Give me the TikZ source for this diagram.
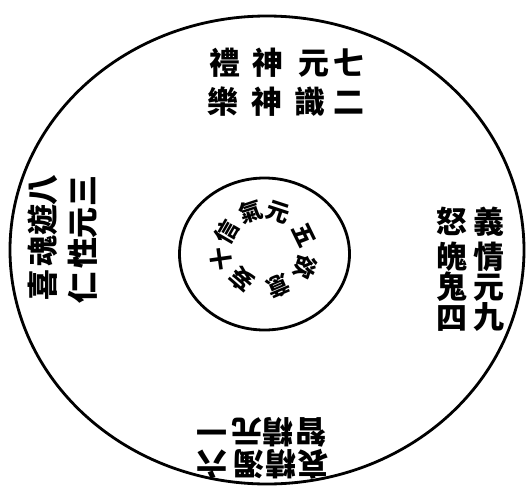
\documentclass[tikz,border=0pt]{standalone}
\usepackage{fontspec}
\newfontfamily\cjkfont{Noto Sans CJK TC}
\tikzset{
  glyphbox/.style={inner sep=0pt,
    execute at begin node={\hbox to 0pt\bgroup\hss},
    execute at end node={\hss\egroup}},
  hanzi/.style={font=\cjkfont\bfseries\fontsize{22}{22}\selectfont, glyphbox,
    minimum width=18.5pt, text height=17.6pt, text depth=0.9pt},
  hubzi/.style={font=\cjkfont\bfseries\fontsize{16.5}{16.5}\selectfont, glyphbox,
    minimum width=11pt, text height=12.5pt, text depth=0pt},
  ring/.style={line width=2pt}
}

\begin{document}
\begin{tikzpicture}[x=0.25mm, y=-0.25mm]
  \useasboundingbox (0,0) rectangle (528,489);
  \fill[white] (0,0) rectangle (528,489);
  % Outer and inner rings
  \draw[ring] (267,250) ellipse [x radius=257, y radius=234];
  \draw[ring] (264.5,254) ellipse [x radius=85, y radius=76];
  % Top group
  \node[hanzi] (top11) at (225,63) {禮};
  \node[hanzi] (top12) at (268,63) {神};
  \node[hanzi] (top13) at (314,63) {元};
  \node[hanzi] (top14) at (349,63) {七};
  \node[hanzi] (top21) at (223,102) {樂};
  \node[hanzi] (top22) at (267,102) {神};
  \node[hanzi] (top23) at (310,102) {識};
  \node[hanzi] (top24) at (349,102) {二};
  % Left group
  \node[hanzi, rotate=90] (lft11) at (43,190) {八};
  \node[hanzi, rotate=90] (lft12) at (43,220) {遊};
  \node[hanzi, rotate=90] (lft13) at (43,251) {魂};
  \node[hanzi, rotate=90] (lft14) at (43,285) {喜};
  \node[hanzi, rotate=90] (lft21) at (83,191) {三};
  \node[hanzi, rotate=90] (lft22) at (83,223) {元};
  \node[hanzi, rotate=90] (lft23) at (83,253) {性};
  \node[hanzi, rotate=90] (lft24) at (83,288) {仁};
  % Right group
  \node[hanzi] (rgt11) at (489,222) {義};
  \node[hanzi] (rgt12) at (489,257) {情};
  \node[hanzi] (rgt13) at (489,287) {元};
  \node[hanzi] (rgt14) at (489,317) {九};
  \node[hanzi] (rgt21) at (452,222) {怒};
  \node[hanzi] (rgt22) at (452,257) {魄};
  \node[hanzi] (rgt23) at (452,287) {鬼};
  \node[hanzi] (rgt24) at (452,318) {四};
  % Bottom group
  \node[hanzi, rotate=180] (bot11) at (212,432) {一};
  \node[hanzi, rotate=180] (bot12) at (247,432) {元};
  \node[hanzi, rotate=180] (bot13) at (278,432) {精};
  \node[hanzi, rotate=180] (bot14) at (311,432) {智};
  \node[hanzi, rotate=180] (bot21) at (212,464) {六};
  \node[hanzi, rotate=180] (bot22) at (249,464) {濁};
  \node[hanzi, rotate=180] (bot23) at (281,464) {精};
  \node[hanzi, rotate=180] (bot24) at (313,464) {哀};
  % Hub text round the inner ring
  \node[hubzi, rotate=98] (hub1) at (221,259) {十};
  \node[hubzi, rotate=60] (hub2) at (226.5,232) {信};
  \node[hubzi, rotate=18] (hub3) at (251,212) {氣};
  \node[hubzi, rotate=-18] (hub4) at (278,212) {元};
  \node[hubzi, rotate=-64] (hub5) at (304,235) {五};
  \node[hubzi, rotate=-108] (hub6) at (305,267) {欲};
  \node[hubzi, rotate=-157] (hub7) at (278,286) {意};
  \node[hubzi, rotate=139] (hub8) at (242,280) {妄};
\end{tikzpicture}
\end{document}
